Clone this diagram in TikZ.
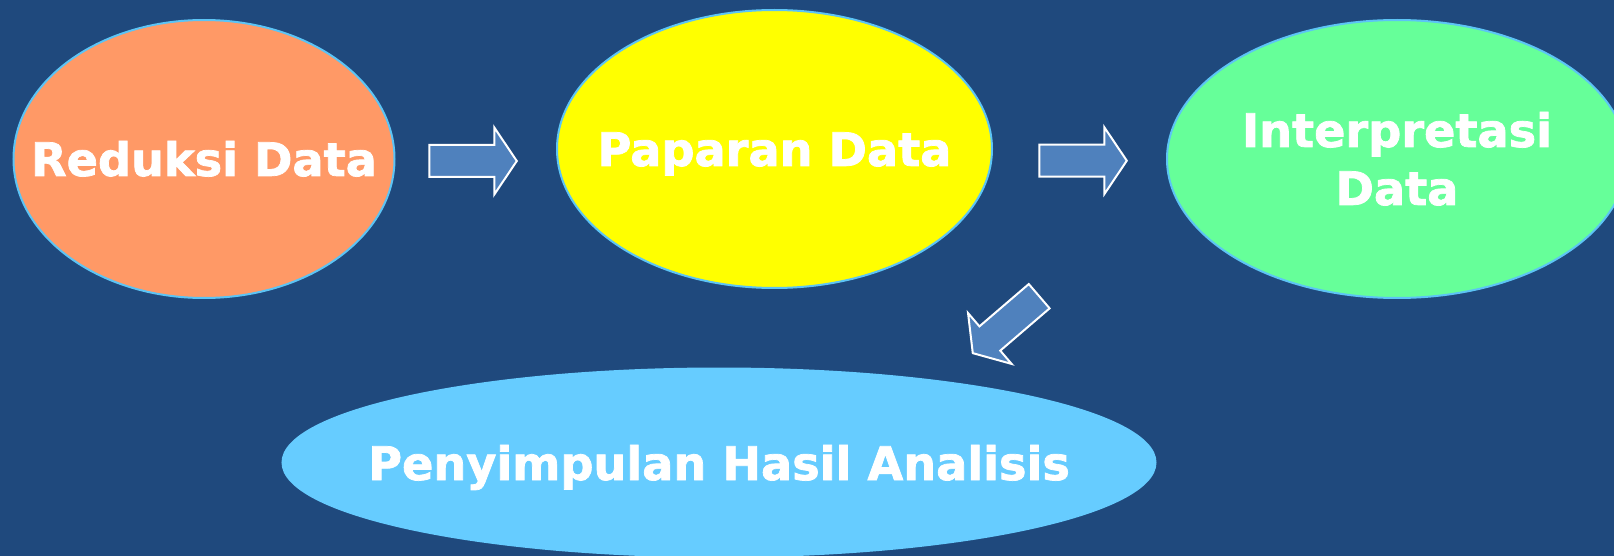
\documentclass[tikz,border=0pt]{standalone}
\usepackage{fontspec}
\setmainfont{DejaVu Sans}
\newfontfamily\heavyfont[FakeBold=1.6]{DejaVu Sans Bold}
\usetikzlibrary{shapes.geometric}
\definecolor{bg}{HTML}{1F497D}
\definecolor{arrowfill}{HTML}{4F81BD}
\definecolor{edgec}{HTML}{5CC4F5}
\definecolor{orangec}{HTML}{FF9966}
\definecolor{yellowc}{HTML}{FFFF00}
\definecolor{greenc}{HTML}{66FF99}
\definecolor{bluec}{HTML}{66CCFF}
\tikzset{
  blob/.style={ellipse, draw=edgec, line width=1pt, inner sep=0pt},
  lbl/.style={text=white, font=\heavyfont\fontsize{23.1}{29}\selectfont, anchor=base, inner sep=0pt},
  blockarrow/.style={fill=arrowfill, draw=white, line width=1pt, line join=miter}
}
\begin{document}
\begin{tikzpicture}[x=0.5pt,y=-0.5pt]
\fill[bg] (0,0) rectangle (1614,556);
\useasboundingbox (0,0) rectangle (1614,556);
% ellipses
\node[blob, fill=orangec, minimum width=190.5pt, minimum height=139pt] (red) at (204,159) {};
\node[blob, fill=yellowc, minimum width=217.5pt, minimum height=139pt] (pap) at (774.5,149) {};
\node[blob, fill=greenc, minimum width=230pt, minimum height=139pt] (int) at (1397,159) {};
\node[blob, fill=bluec, draw=bluec, minimum width=436.5pt, minimum height=94pt] (sim) at (719,462.5) {};
% labels
\node[lbl] (redt) at ([yshift=-8.5pt]red.center) {Reduksi Data};
\node[lbl] (papt) at ([yshift=-8.5pt]pap.center) {Paparan Data};
\node[lbl] (intt1) at ([yshift=6pt]int.center) {Interpretasi};
\node[lbl] (intt2) at ([yshift=-23pt]int.center) {Data};
\node[lbl] (simt) at ([yshift=-8.75pt]sim.center) {Penyimpulan Hasil Analisis};
% block arrows
\draw[blockarrow, shift={(429.3,161)}] (0,-16) -- (65,-16) -- (65,-33.5) -- (87.5,0) -- (65,33.5) -- (65,16) -- (0,16) -- cycle;
\draw[blockarrow, shift={(1039.3,160.7)}] (0,-16) -- (65,-16) -- (65,-33.5) -- (87.5,0) -- (65,33.5) -- (65,16) -- (0,16) -- cycle;
\draw[blockarrow, shift={(1039.2,296.2)}, rotate=220.6] (0,-16) -- (65,-16) -- (65,-33.5) -- (87.5,0) -- (65,33.5) -- (65,16) -- (0,16) -- cycle;
\end{tikzpicture}
\end{document}
